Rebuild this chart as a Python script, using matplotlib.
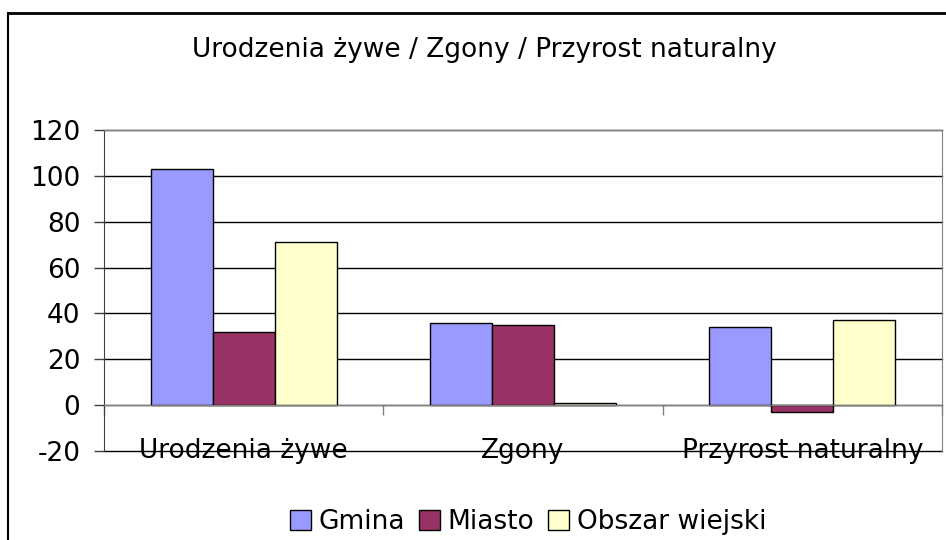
import matplotlib
matplotlib.use("Agg")
import matplotlib.pyplot as plt
import numpy as np
from matplotlib.lines import Line2D
from matplotlib.patches import Patch

categories = ["Urodzenia żywe", "Zgony", "Przyrost naturalny"]
series_names = ["Gmina", "Miasto", "Obszar wiejski"]
gmina = [103, 36, 34]
miasto = [32, 35, -3]
obszar = [71, 1, 37]
colors = ["#9999FF", "#993366", "#FFFFCC"]
yticks = [-20, 0, 20, 40, 60, 80, 100, 120]
title = "Urodzenia żywe / Zgony / Przyrost naturalny"

plt.rcParams['font.family'] = ['DejaVu Sans']
FS = 19

W, H = 946, 540
fig = plt.figure(figsize=(W/100, H/100), dpi=100)
ax = fig.add_axes([104/W, 1-451/H, (942-104)/W, (451-130)/H])

x = np.arange(len(categories))
bw = 1/4.5
for k, (vals, col, name) in enumerate(zip([gmina, miasto, obszar], colors, series_names)):
    ax.bar(x + (k-1)*bw, vals, width=bw, color=col, edgecolor="black", linewidth=1, zorder=3, label=name)

ax.set_xlim(-0.5, 2.5)
ax.set_ylim(-20, 120)
ax.set_yticks(yticks)
ax.set_yticklabels([str(v) for v in yticks], fontsize=FS)
ax.yaxis.grid(True, color="black", linewidth=1, zorder=0)
ax.set_axisbelow(True)
for gl in ax.get_ygridlines():
    gl.set_clip_on(False)

ax.spines['bottom'].set_position(('data', 0))
ax.spines['bottom'].set_color('#808080')
ax.spines['bottom'].set_zorder(4)
ax.set_xticks([-0.5, 0.5, 1.5, 2.5])
ax.set_xticklabels([])
ax.tick_params(axis='x', direction='out', length=7, color='#808080', width=1)
ax.tick_params(axis='y', direction='out', length=7, color='#404040', width=1, pad=10)
ax.spines['left'].set_color('#404040')
for s in ['top', 'right']:
    ax.spines[s].set_color('#808080')

for i, c in enumerate(categories):
    ax.text(i, -20, c, ha='center', va='center', fontsize=FS, zorder=5)

fig.text(484/W, 1-50/H, title, ha='center', va='center', fontsize=FS)

handles = [Patch(facecolor=c, edgecolor='black', linewidth=1) for c in colors]
fig.legend(handles, series_names, loc='center', bbox_to_anchor=(528/W, 1-522/H), ncol=3,
           frameon=False, fontsize=FS, handlelength=0.8, handleheight=0.8,
           handletextpad=0.3, columnspacing=0.5, borderaxespad=0, borderpad=0)

fig.add_artist(Line2D([8/W, 8/W], [0, 1-13/H], color='black', linewidth=1.5, transform=fig.transFigure))
fig.add_artist(Line2D([8/W, 1], [1-13/H, 1-13/H], color='black', linewidth=2, transform=fig.transFigure))

fig.savefig("out.png", dpi=100)
